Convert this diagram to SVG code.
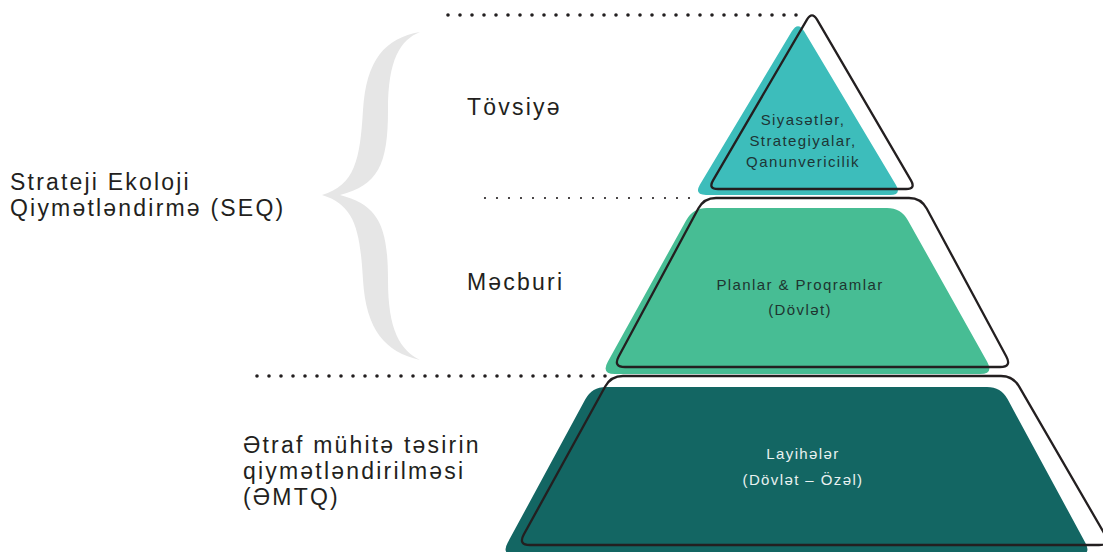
<svg xmlns="http://www.w3.org/2000/svg" width="1103" height="552" viewBox="0 0 1103 552">
<style>
.lbl{font-family:"Liberation Sans",Arial,sans-serif;font-size:23px;letter-spacing:2.2px;fill:#231f20}
.in{font-family:"Liberation Sans",Arial,sans-serif;font-size:15px;letter-spacing:1.4px;text-anchor:middle}
.outline{fill:none;stroke:#231f20;stroke-width:2.3;stroke-linejoin:round}
.dots{fill:none;stroke:#231f20;stroke-linecap:round}
</style>
<rect width="1103" height="552" fill="#ffffff"/>
<g id="brace">
<path d="M 420 32 C 385 38, 366 60, 363 110 C 360 160, 355 185, 322 195 C 355 205, 360 230, 363 280 C 366 330, 385 352, 420 360 C 400 350, 388 330, 388 280 C 388 225, 378 205, 340 195 C 378 185, 388 165, 388 110 C 388 60, 400 40, 420 32 Z" fill="#e6e6e6"/>
</g>
<g id="connectors">
<line class="dots" x1="448" y1="15" x2="808" y2="15" stroke-width="3.6" stroke-dasharray="0 12"/>
<line class="dots" x1="485" y1="198" x2="701" y2="198" stroke-width="2.2" stroke-dasharray="0 12"/>
<line class="dots" x1="257" y1="376" x2="611" y2="376" stroke-width="3.6" stroke-dasharray="0 12"/>
</g>
<g id="tier-top">
<path d="M 791.84 31.3 Q 798 21 804.16 31.3 L 895.84 184.7 Q 902 195 890 195 L 706 195 Q 694 195 699.84 184.7 Z" fill="#3dbdbb"/>
<path class="outline" d="M 806.96 19.63 Q 812 11 817.04 19.63 L 910.96 180.37 Q 916 189 906 189 L 718 189 Q 708 189 713.04 180.37 Z"/>
<text class="in" fill="#1e3535"><tspan x="803" y="125">Siyasətlər,</tspan><tspan x="803" y="146">Strategiyalar,</tspan><tspan x="803" y="167">Qanunvericilik</tspan></text>
</g>
<g id="tier-middle">
<path d="M 707 208 L 887 208 Q 901 208 907.85 220.21 L 987.15 361.79 Q 994 374 980 374 L 615 374 Q 601 374 607.79 361.75 L 686.21 220.25 Q 693 208 707 208 Z" fill="#47bd94"/>
<path class="outline" d="M 716 198 L 909 198 Q 921 198 926.69 208.57 L 1006.31 356.43 Q 1012 367 1000 367 L 625 367 Q 613 367 618.69 356.43 L 698.31 208.57 Q 704 198 716 198 Z"/>
<text class="in" fill="#1e3530"><tspan x="800" y="290">Planlar &amp; Proqramlar</tspan><tspan x="800" y="315">(Dövlət)</tspan></text>
</g>
<g id="tier-bottom">
<path d="M 606 387 L 987 387 Q 1001 387 1007.67 399.31 L 1085.33 542.69 Q 1092 555 1078 555 L 515 555 Q 501 555 507.67 542.69 L 585.33 399.31 Q 592 387 606 387 Z" fill="#136663"/>
<path class="outline" d="M 623 376 L 1001 376 Q 1013 376 1019.02 386.38 L 1104.98 534.62 Q 1111 545 1099 545 L 530 545 Q 518 545 523.79 534.49 L 605.21 386.51 Q 611 376 623 376 Z"/>
<text class="in" fill="#e8f1f0"><tspan x="803" y="459">Layihələr</tspan><tspan x="803" y="485">(Dövlət – Özəl)</tspan></text>
</g>
<g id="label-seq">
<text class="lbl"><tspan x="10" y="190">Strateji Ekoloji</tspan><tspan x="10" y="216">Qiymətləndirmə (SEQ)</tspan></text>
</g>
<g id="label-tovsiye">
<text class="lbl" x="467" y="115">Tövsiyə</text>
</g>
<g id="label-mecburi">
<text class="lbl" x="467" y="290">Məcburi</text>
</g>
<g id="label-emtq">
<text class="lbl"><tspan x="243" y="453">Ətraf mühitə təsirin</tspan><tspan x="243" y="479">qiymətləndirilməsi</tspan><tspan x="243" y="505">(ƏMTQ)</tspan></text>
</g>
</svg>
